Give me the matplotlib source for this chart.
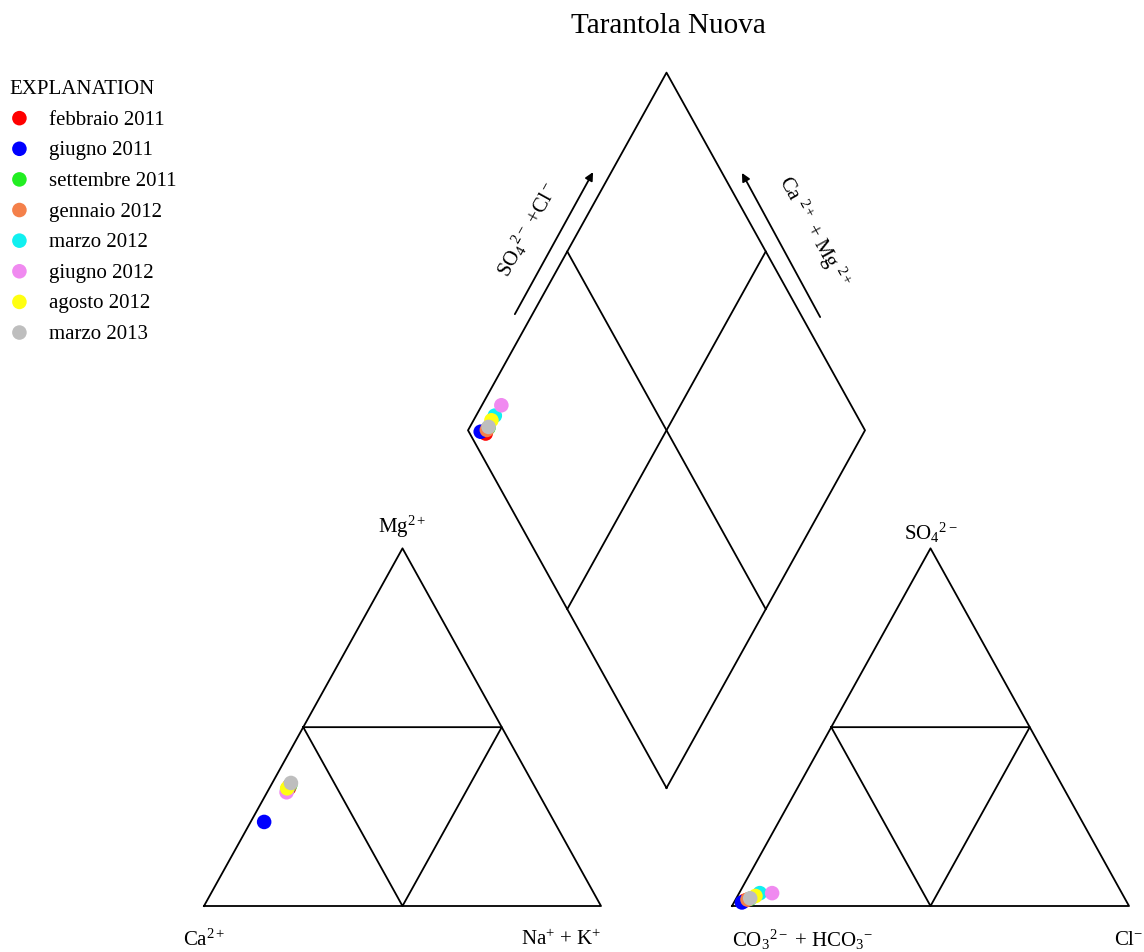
import numpy as np
import matplotlib
matplotlib.use('Agg')
import matplotlib.pyplot as plt

plt.rcParams['font.family'] = ['Liberation Serif', 'DejaVu Serif']
plt.rcParams['mathtext.fontset'] = 'custom'
plt.rcParams['mathtext.rm'] = 'Liberation Serif'
plt.rcParams['mathtext.it'] = 'Liberation Serif:italic'
plt.rcParams['mathtext.bf'] = 'Liberation Serif:bold'

# sampling campaigns, Tarantola Nuova (meq %)
campaigns = ['febbraio 2011', 'giugno 2011', 'settembre 2011', 'gennaio 2012',
             'marzo 2012', 'giugno 2012', 'agosto 2012', 'marzo 2013']
colors = ['#FF0000', '#0000FF', '#22EE22', '#F4804A',
          '#11F0F0', '#F08AF0', '#FFFF11', '#BEBEBE']

mg = [33.0, 23.5, 33.8, 33.5, 32.5, 31.8, 32.9, 34.4]
nak = [4.9, 3.4, 4.8, 4.7, 4.7, 4.9, 4.5, 4.7]
so4 = [1.5, 1.0, 2.0, 1.8, 3.6, 3.6, 2.8, 2.15]
cl = [2.5, 2.0, 3.5, 3.0, 5.2, 8.3, 4.5, 3.5]

h = np.sqrt(3) / 2
gap = 0.33
x0 = 1 + gap                      # left corner of anion triangle
bx, by = 1 + gap / 2, gap * h     # bottom vertex of the diamond

fig = plt.figure(figsize=(11.44, 9.53), dpi=100)
ax = fig.add_axes([0, 0, 1, 1])
ax.set_xlim(-204 / 397, 940 / 397)
ax.set_ylim(-46 / 413, 907 / 413)
ax.axis('off')

lw = 1.3
kw = dict(color='black', lw=lw, zorder=1)

# triangles with inner midpoint triangle
for ox in (0, x0):
    ax.plot([ox, ox + 1, ox + 0.5, ox], [0, 0, h, 0], **kw)
    ax.plot([ox + 0.25, ox + 0.75, ox + 0.5, ox + 0.25], [h / 2, h / 2, 0, h / 2], **kw)

# diamond and its inner cross
dl = (bx - 0.5, by + h)
dr = (bx + 0.5, by + h)
dt = (bx, by + 2 * h)
ax.plot([bx, dl[0], dt[0], dr[0], bx], [by, dl[1], dt[1], dr[1], by], **kw)
ax.plot([bx - 0.25, bx + 0.25], [by + h / 2 * 3, by + h / 2], **kw)
ax.plot([bx + 0.25, bx - 0.25], [by + h / 2 * 3, by + h / 2], **kw)

# samples
handles = []
for i in range(len(campaigns)):
    m = mg[i] / 100
    n = nak[i] / 100
    s = so4[i] / 100
    c = cl[i] / 100
    a = s + c
    xc, yc = n + m / 2, m * h
    xa, ya = x0 + c + s / 2, s * h
    xd = bx + 0.5 * (a - (1 - n))
    yd = by + h * (a + 1 - n)
    sc = ax.scatter([xc, xa, xd], [yc, ya, yd], s=110, color=colors[i],
                    edgecolors='none', zorder=3, label=campaigns[i])
    handles.append(sc)

# axis arrows along the diamond
ax.annotate('', xy=(0.980, 1.777), xytext=(0.783, 1.433),
            arrowprops=dict(arrowstyle='-|>', color='black', lw=lw,
                            mutation_scale=12, shrinkA=0, shrinkB=0))
ax.annotate('', xy=(1.355, 1.775), xytext=(1.552, 1.426),
            arrowprops=dict(arrowstyle='-|>', color='black', lw=lw,
                            mutation_scale=12, shrinkA=0, shrinkB=0))
ax.text(0.815, 1.64, r'SO$_4$$^{2-}$ +Cl$^-$', rotation=61, fontsize=15,
        ha='center', va='center')
ax.text(1.535, 1.635, r'Ca $^{2+}$ + Mg $^{2+}$', rotation=-61, fontsize=15,
        ha='center', va='center')

# vertex labels
fs = 15
ax.text(0.0, -0.08, r'Ca$^{2+}$', fontsize=fs, ha='center', va='center')
ax.text(1.0, -0.08, r'Na$^{+}$ + K$^{+}$', fontsize=fs, ha='right', va='center')
ax.text(0.5, h + 0.055, r'Mg$^{2+}$', fontsize=fs, ha='center', va='center')
ax.text(x0, -0.08, r'CO$_3$$^{2-}$ + HCO$_3$$^{-}$', fontsize=fs, ha='left', va='center')
ax.text(x0 + 1.0, -0.08, r'Cl$^{-}$', fontsize=fs, ha='center', va='center')
ax.text(x0 + 0.5, h + 0.04, r'SO$_4$$^{2-}$', fontsize=fs, ha='center', va='center')

fig.text(668 / 1144, 1 - 26 / 953, 'Tarantola Nuova', fontsize=21,
         ha='center', va='center')

leg = fig.legend(handles=handles, labels=campaigns, title='EXPLANATION',
                 loc='upper left', bbox_to_anchor=(9 / 1144, 1 - 80 / 953),
                 frameon=False, fontsize=15, title_fontsize=15,
                 handlelength=1.0, handletextpad=0.9, labelspacing=0.53,
                 borderpad=0, borderaxespad=0, alignment='left')

fig.savefig('out.png', dpi=100)
